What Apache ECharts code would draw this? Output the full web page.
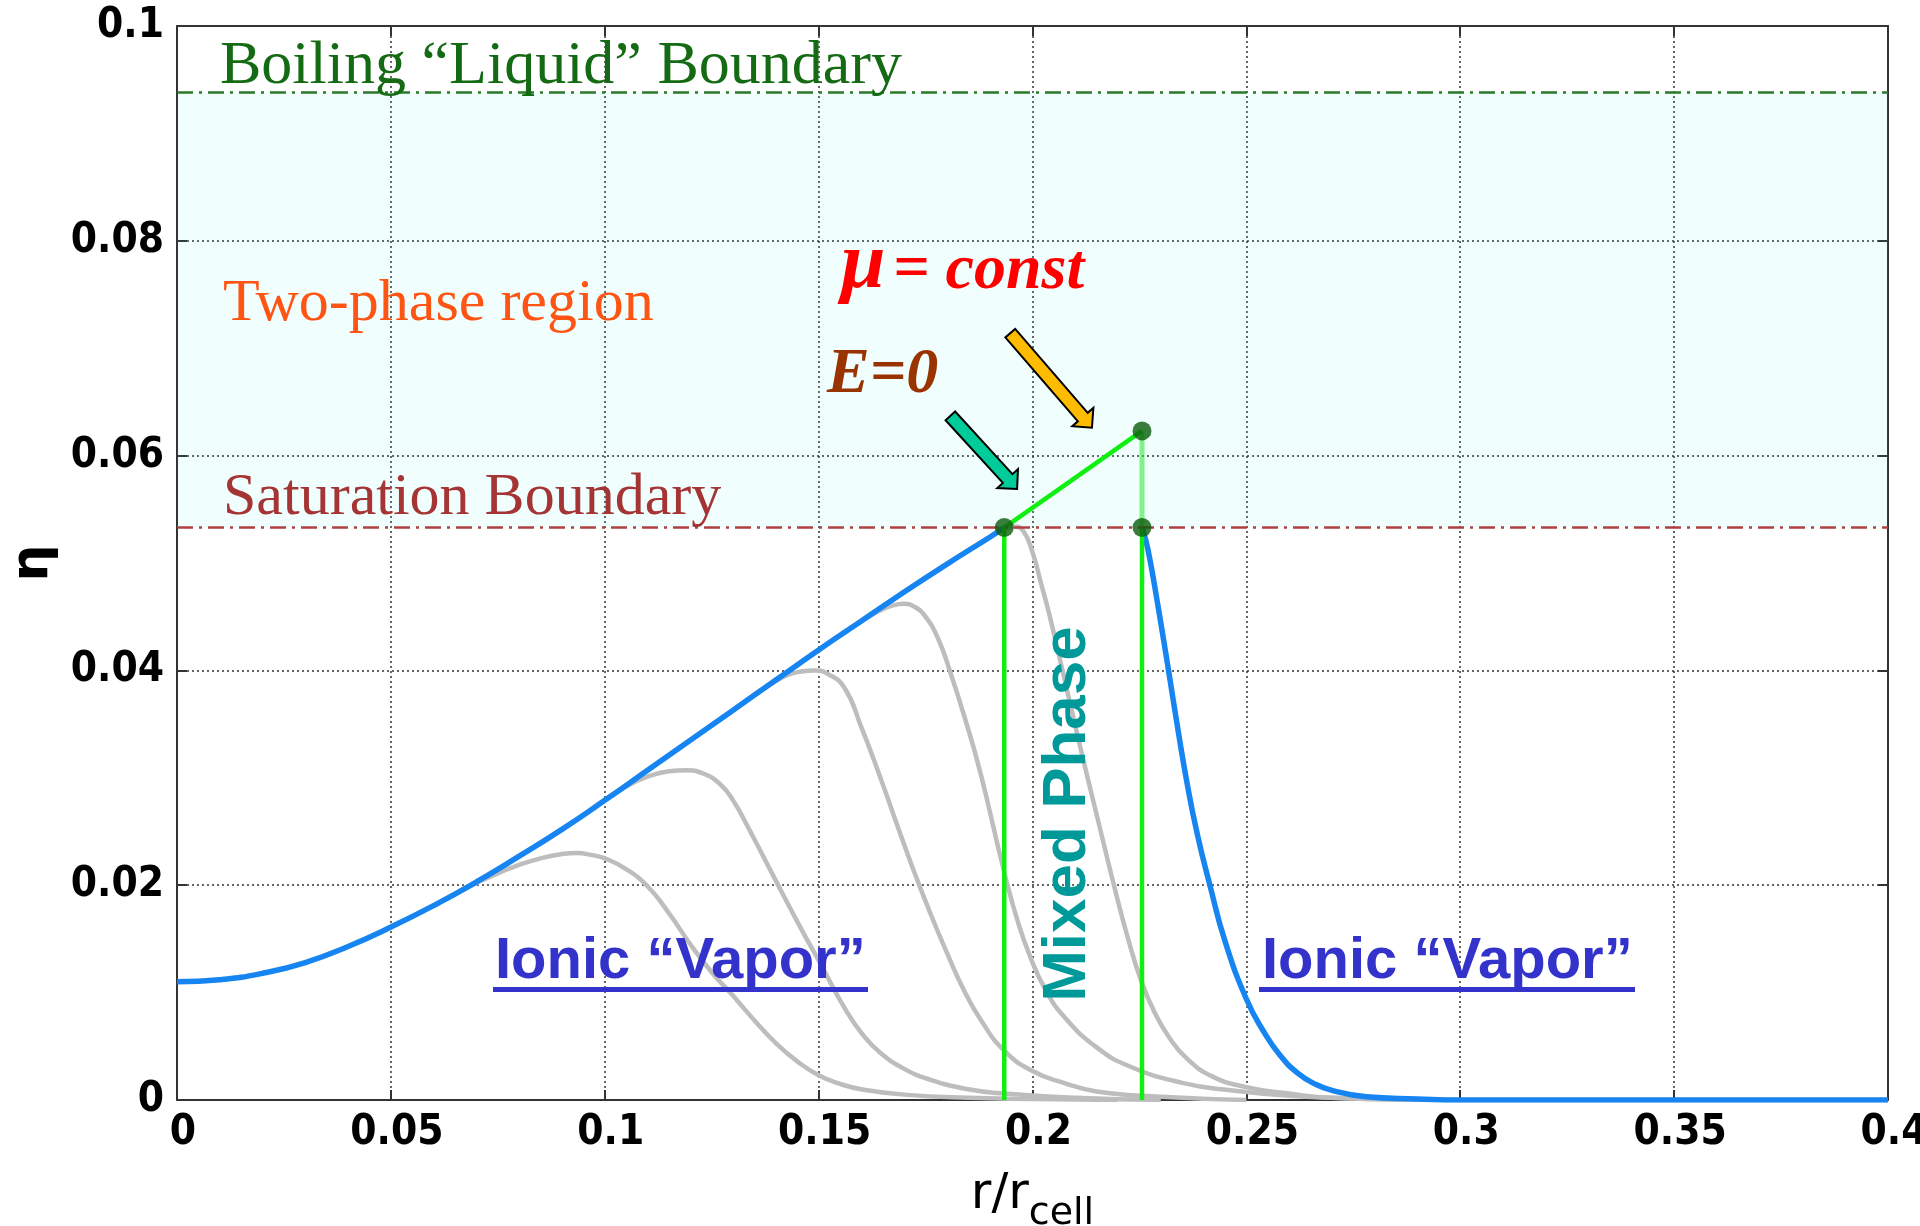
<!DOCTYPE html>
<html><head><meta charset="utf-8">
<script src="https://cdn.jsdelivr.net/npm/echarts@6/dist/echarts.min.js"></script>
<style>html,body{margin:0;padding:0;background:#fff}#chart{width:1920px;height:1226px}</style>
</head><body><div id="chart"></div>
<script>
// ---- tick labels ----
const xTicks = ['0','0.05','0.1','0.15','0.2','0.25','0.3','0.35','0.4'];
const yTicks = ['0','0.02','0.04','0.06','0.08','0.1'];

// ---- levels ----
const saturationLevel = 0.0533;
const boilingLevel = 0.0938;

// ---- blue profile (equilibrium) ----
const blueLeft = [[0,0.0110],[0.01,0.0112],[0.02,0.0118],[0.03,0.0128],[0.04,0.0143],[0.05,0.0161],[0.06,0.0181],[0.07,0.0203],[0.08,0.0227],[0.09,0.0252],[0.10,0.0279],[0.11,0.0307],[0.12,0.0335],[0.13,0.0363],[0.14,0.0391],[0.15,0.0419],[0.16,0.0446],[0.17,0.0473],[0.18,0.0499],[0.19,0.0524],[0.1934,0.0533]];
const blueRight = [[0.2256,0.0533],[0.2265,0.0521],[0.2276,0.0500],[0.2290,0.0468],[0.2305,0.0432],[0.2320,0.0395],[0.2340,0.0345],[0.2360,0.0298],[0.2385,0.0248],[0.2416,0.0198],[0.2450,0.0148],[0.2500,0.0094],[0.2540,0.0064],[0.2580,0.0041],[0.2620,0.0025],[0.2660,0.0015],[0.2700,0.0009],[0.2780,0.0003],[0.2900,0.0001],[0.3000,0],[0.4000,0]];

// ---- gray profiles ----
const gray1 = [[0.060,0.0181],[0.070,0.0202],[0.075,0.0211],[0.080,0.0219],[0.085,0.0225],[0.090,0.0229],[0.0935,0.0230],[0.097,0.0228],[0.100,0.0225],[0.105,0.0215],[0.110,0.0199],[0.115,0.0174],[0.120,0.0145],[0.125,0.0119],[0.130,0.0097],[0.135,0.0074],[0.140,0.0053],[0.145,0.0036],[0.150,0.0023],[0.155,0.0015],[0.160,0.0010],[0.170,0.0005],[0.185,0.0002],[0.200,0.0001],[0.220,0]];
const gray2 = [[0.095,0.0265],[0.100,0.0279],[0.105,0.0292],[0.110,0.0301],[0.115,0.0306],[0.119,0.0307],[0.123,0.0304],[0.127,0.0294],[0.130,0.0279],[0.1335,0.0254],[0.1395,0.0208],[0.1457,0.0161],[0.150,0.0130],[0.1566,0.0082],[0.1605,0.0060],[0.1644,0.0044],[0.170,0.0029],[0.176,0.0019],[0.185,0.0010],[0.1934,0.0006],[0.21,0.0002],[0.23,0]];
const gray3 = [[0.130,0.0363],[0.135,0.0377],[0.140,0.0390],[0.143,0.0396],[0.146,0.0399],[0.149,0.0400],[0.152,0.0397],[0.156,0.0384],[0.160,0.0347],[0.164,0.0305],[0.168,0.0260],[0.172,0.0216],[0.176,0.0175],[0.180,0.0137],[0.184,0.0102],[0.188,0.0074],[0.1934,0.0046],[0.200,0.0027],[0.2073,0.0016],[0.215,0.0008],[0.230,0.0003],[0.250,0]];
const gray4 = [[0.155,0.0432],[0.160,0.0446],[0.164,0.0455],[0.167,0.0460],[0.170,0.0462],[0.1725,0.0459],[0.1750,0.0450],[0.1780,0.0429],[0.1808,0.0398],[0.184,0.0358],[0.1878,0.0305],[0.1934,0.0212],[0.1965,0.0167],[0.1995,0.0133],[0.2030,0.0103],[0.2073,0.0078],[0.215,0.0049],[0.2229,0.0031],[0.235,0.0016],[0.2463,0.0009],[0.260,0.0004],[0.280,0.0001],[0.300,0]];
const gray5 = [[0.180,0.0499],[0.185,0.0512],[0.190,0.0524],[0.1934,0.0532],[0.1956,0.0534],[0.1978,0.0530],[0.2000,0.0510],[0.2020,0.0481],[0.2040,0.0451],[0.2073,0.0395],[0.2112,0.0328],[0.2151,0.0264],[0.2198,0.0188],[0.2225,0.0148],[0.2255,0.0110],[0.2285,0.0082],[0.2320,0.0058],[0.2360,0.0039],[0.2420,0.0022],[0.2500,0.0012],[0.2600,0.0006],[0.2700,0.0002],[0.2900,0]];

// ---- mixed-phase construction ----
const pointE0 = [0.1934, 0.0533];
const pointMu = [0.2256, 0.0623];
const pointSat2 = [0.2256, 0.0533];
const greenLeft = [[0.1934,0],[0.1934,0.0533],[0.2256,0.0623]];
const greenUpper = [[0.2256,0.0623],[0.2256,0.0533]];
const greenRight = [[0.2256,0.0533],[0.2256,0]];

// ---- annotation arrows [x0,y0,x1,y1] ----
const arrowE0 = [[0.1808,0.0637,0.1964,0.0569]];
const arrowMu = [[0.1948,0.0714,0.2139,0.0626]];

const chart = echarts.init(document.getElementById('chart'));
const labelFont = '"DejaVu Sans Condensed","Liberation Sans Narrow","DejaVu Sans",sans-serif';

function arrowItem(params, api) {
  const p0 = api.coord([api.value(0), api.value(1)]);
  const p1 = api.coord([api.value(2), api.value(3)]);
  const dx = p1[0]-p0[0], dy = p1[1]-p0[1];
  const L = Math.hypot(dx, dy), ux = dx/L, uy = dy/L, nx = -uy, ny = ux;
  const sw = 6.5, hw = 14, hl = 14;
  const bx = p1[0]-ux*hl, by = p1[1]-uy*hl;
  const pts = [[p0[0]+nx*sw,p0[1]+ny*sw],[bx+nx*sw,by+ny*sw],[bx+nx*hw,by+ny*hw],[p1[0],p1[1]],[bx-nx*hw,by-ny*hw],[bx-nx*sw,by-ny*sw],[p0[0]-nx*sw,p0[1]-ny*sw]];
  return {type:'polygon', shape:{points:pts}, style:{fill: api.visual('color'), stroke:'#000', lineWidth:2}};
}

const grayStyle = {color:'#BDBDBD', width:4.5};
function grayLine(d){ return {type:'line', data:d, showSymbol:false, smooth:0.5, lineStyle:grayStyle, z:2, silent:true}; }

chart.setOption({
  animation: false,
  backgroundColor: '#fff',
  grid: {left:177, right:32, top:26, bottom:126, containLabel:false, outerBoundsMode:'none'},
  xAxis: [{
    type:'value', min:0, max:0.4, interval:0.05, position:'bottom',
    name:'{a|r/r}{b|cell}', nameLocation:'middle', nameGap:70,
    nameTextStyle:{rich:{
      a:{fontFamily:'"DejaVu Sans",sans-serif', fontSize:50, color:'#000', verticalAlign:'top', lineHeight:63},
      b:{fontFamily:'"DejaVu Sans",sans-serif', fontSize:38, color:'#000', verticalAlign:'bottom'}}},
    axisLine:{show:true, lineStyle:{color:'#333', width:2}},
    axisTick:{show:true, inside:true, length:10, lineStyle:{color:'#333', width:2}},
    axisLabel:{margin:12, color:'#000', fontWeight:'bold', fontSize:42, fontFamily:labelFont, padding:[0,0,0,12],
      formatter:(v)=>xTicks[Math.round(v/0.05)]},
    splitLine:{show:true, lineStyle:{color:'#333', width:1.5, type:[2,3]}}
  },{
    type:'value', min:0, max:0.4, interval:0.05, position:'top',
    axisLine:{show:true, onZero:false, lineStyle:{color:'#333', width:2}},
    axisTick:{show:true, inside:true, length:10, lineStyle:{color:'#333', width:2}},
    axisLabel:{show:false}, splitLine:{show:false}
  }],
  yAxis: [{
    type:'value', min:0, max:0.1, interval:0.02, position:'left',
    name:'η', nameLocation:'middle', nameRotate:90, nameGap:117,
    nameTextStyle:{fontSize:52, fontWeight:'bold', color:'#000', fontFamily:'"DejaVu Sans",sans-serif'},
    axisLine:{show:true, lineStyle:{color:'#333', width:2}},
    axisTick:{show:true, inside:true, length:10, lineStyle:{color:'#333', width:2}},
    axisLabel:{margin:13, color:'#000', fontWeight:'bold', fontSize:42, fontFamily:labelFont,
      formatter:(v)=>yTicks[Math.round(v/0.02)]},
    splitLine:{show:true, lineStyle:{color:'#333', width:1.5, type:[2,3]}}
  },{
    type:'value', min:0, max:0.1, interval:0.02, position:'right',
    axisLine:{show:true, onZero:false, lineStyle:{color:'#333', width:2}},
    axisTick:{show:true, inside:true, length:10, lineStyle:{color:'#333', width:2}},
    axisLabel:{show:false}, splitLine:{show:false}
  }],
  series: [
    {type:'line', data:[], z:1, silent:true,
      markArea:{silent:true, itemStyle:{color:'rgba(0,230,230,0.06)'},
        data:[[{yAxis:saturationLevel},{yAxis:boilingLevel}]]},
      markLine:{silent:true, symbol:'none', precision:5, label:{show:false}, animation:false,
        data:[
          {yAxis:boilingLevel, lineStyle:{color:'#2A7A2A', width:2.5, type:[16,6,3,6]}},
          {yAxis:saturationLevel, lineStyle:{color:'#B04040', width:2.5, type:[16,6,3,6]}}
        ]}
    },
    grayLine(gray1), grayLine(gray2), grayLine(gray3), grayLine(gray4), grayLine(gray5),
    {type:'line', data:blueLeft, showSymbol:false, smooth:0.5, lineStyle:{color:'#1685F2', width:5.5}, z:3},
    {type:'line', data:blueRight, showSymbol:false, smooth:0.5, lineStyle:{color:'#1685F2', width:5.5}, z:3},
    {type:'line', data:greenLeft, showSymbol:false, lineStyle:{color:'#11EE11', width:4.5}, z:4},
    {type:'line', data:greenUpper, showSymbol:false, lineStyle:{color:'rgba(40,230,40,0.55)', width:5}, z:4},
    {type:'line', data:greenRight, showSymbol:false, lineStyle:{color:'#11EE11', width:4.5}, z:4},
    {type:'scatter', data:[pointE0, pointMu, pointSat2], symbolSize:19, itemStyle:{color:'#0B5C0B'}, z:6},
    {type:'custom', renderItem:arrowItem, data:arrowE0, itemStyle:{color:'#00CC99'}, encode:{x:[0,2], y:[1,3]}, z:7},
    {type:'custom', renderItem:arrowItem, data:arrowMu, itemStyle:{color:'#FFBB00'}, encode:{x:[0,2], y:[1,3]}, z:7}
  ],
  graphic: [
    {type:'text', x:220, y:67, z:10, style:{text:'Boiling “Liquid” Boundary', fill:'#146B14', font:'62px "Liberation Serif", serif', align:'left', verticalAlign:'middle'}},
    {type:'text', x:223, y:304, z:10, style:{text:'Two-phase region', fill:'#FF5514', font:'60px "Liberation Serif", serif', align:'left', verticalAlign:'middle'}},
    {type:'text', x:223, y:498, z:10, style:{text:'Saturation Boundary', fill:'#A53535', font:'60px "Liberation Serif", serif', align:'left', verticalAlign:'middle'}},
    {type:'text', x:841, y:266, z:10, style:{text:'μ', fill:'#FF0000', font:'italic bold 80px "Liberation Serif", serif', align:'left', verticalAlign:'middle'}},
    {type:'text', x:893, y:271, z:10, style:{text:'= const', fill:'#FF0000', font:'italic bold 64px "Liberation Serif", serif', align:'left', verticalAlign:'middle'}},
    {type:'text', x:827, y:375, z:10, style:{text:'E=0', fill:'#993300', font:'italic bold 64px "Liberation Serif", serif', align:'left', verticalAlign:'middle'}},
    {type:'text', x:1068, y:814, rotation:Math.PI/2, z:10, style:{text:'Mixed Phase', fill:'#009999', font:'bold 62px "Liberation Sans", Arial, sans-serif', align:'center', verticalAlign:'middle'}},
    {type:'text', x:495, y:962, z:10, style:{text:'Ionic “Vapor”', fill:'#3333CC', font:'bold 58px "Liberation Sans", Arial, sans-serif', align:'left', verticalAlign:'middle'}},
    {type:'rect', z:10, shape:{x:493, y:987, width:375, height:5}, style:{fill:'#3333CC'}},
    {type:'text', x:1262, y:962, z:10, style:{text:'Ionic “Vapor”', fill:'#3333CC', font:'bold 58px "Liberation Sans", Arial, sans-serif', align:'left', verticalAlign:'middle'}},
    {type:'rect', z:10, shape:{x:1259, y:987, width:376, height:5}, style:{fill:'#3333CC'}}
  ]
});
</script></body></html>
